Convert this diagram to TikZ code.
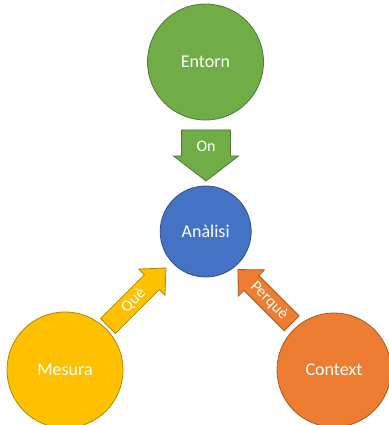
\documentclass[tikz,border=0pt]{standalone}
\usepackage{fontspec}
\setmainfont{Carlito}
\definecolor{cgreen}{HTML}{70AD47}
\definecolor{cblue}{HTML}{4472C4}
\definecolor{cgold}{HTML}{FFC000}
\definecolor{corange}{HTML}{ED7D31}
\tikzset{
  bubble/.style={circle, inner sep=0pt, line width=0.8pt, text=white,
    font=\fontsize{18}{20}\selectfont},
  blockarrow/.style={line width=0.8pt, line join=miter},
  arrowlabel/.style={text=white, font=\fontsize{16}{18}\selectfont, inner sep=0pt},
}
\begin{document}
\begin{tikzpicture}[x=1pt,y=1pt]
\useasboundingbox[fill=white] (0,0) rectangle (388,425);

% circles
\node[bubble, fill=cgreen, draw=cgreen!70!black, minimum size=116pt] (entorn) at (205.5,363) {Entorn};
\node[bubble, fill=cblue, draw=cblue!70!black, minimum size=91pt] (analisi) at (205.7,193.5) {Anàlisi};
\node[bubble, fill=cgold, draw=cgold!70!black, minimum size=116pt] (mesura) at (65,55) {Mesura};
\node[bubble, fill=corange, draw=corange!70!black, minimum size=114pt] (context) at (334,55) {Context};

% On arrow (Entorn -> Anàlisi)
\begin{scope}[shift={(206,295)}, rotate=-90]
  \draw[blockarrow, fill=cgreen, draw=cgreen!70!black]
    (0,-24.5) -- (26,-24.5) -- (26,-32.5) -- (51,0) -- (26,32.5) -- (26,24.5) -- (0,24.5) -- cycle;
  \node[arrowlabel] (on) at (16,0) {On};
\end{scope}

% Què arrow (Mesura -> Anàlisi)
\begin{scope}[shift={(108,99)}, rotate=45]
  \draw[blockarrow, fill=cgold, draw=cgold!70!black]
    (0,-10.5) -- (62,-10.5) -- (62,-18.5) -- (82,0) -- (62,18.5) -- (62,10.5) -- (0,10.5) -- cycle;
  \node[arrowlabel, rotate=45] (que) at (36,0) {Què};
\end{scope}

% Perquè arrow (Context -> Anàlisi)
\begin{scope}[shift={(291.7,101.7)}, rotate=135]
  \draw[blockarrow, fill=corange, draw=corange!70!black]
    (0,-10.5) -- (57,-10.5) -- (57,-18.5) -- (76,0) -- (57,18.5) -- (57,10.5) -- (0,10.5) -- cycle;
  \node[arrowlabel, rotate=-45] (perque) at (32,0) {Perquè};
\end{scope}
\end{tikzpicture}
\end{document}
